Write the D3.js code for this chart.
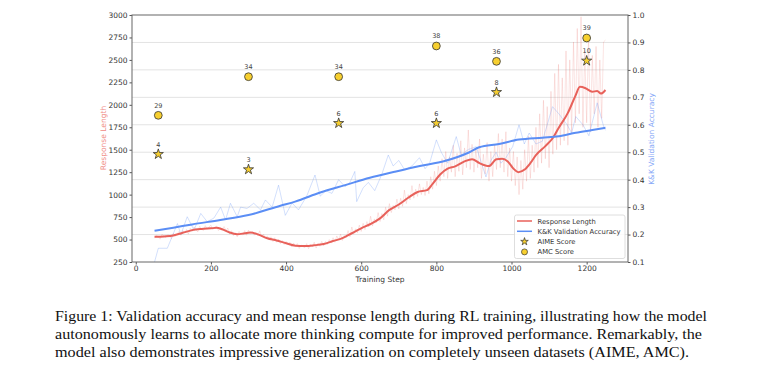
<!DOCTYPE html>
<html><head><meta charset="utf-8">
<script src="https://cdn.jsdelivr.net/npm/d3@7"></script>
<style>body{margin:0;background:#fff} .cap{font-family:"Liberation Serif","Times New Roman",serif;}</style>
</head><body>
<svg id="chart" width="760" height="377"></svg>
<script>
// ---------- data ----------
const xTicks = [0,200,400,600,800,1000,1200];
const leftTicks = [250,500,750,1000,1250,1500,1750,2000,2250,2500,2750,3000];
const rightTicks = [0.1,0.2,0.3,0.4,0.5,0.6,0.7,0.8,0.9,1.0];

// Response length (smoothed)
const lenSmoothSteps = [50,75,100,125,150,175,200,215,230,250,270,290,305,325,350,375,400,425,450,475,500,525,550,575,600,625,650,675,700,725,750,775,790,810,830,850,875,895,915,940,960,975,990,1005,1018,1035,1050,1065,1090,1110,1125,1150,1170,1182,1197,1215,1228,1238,1250];
const lenSmooth = [530,535,545,575,605,618,625,630,615,578,560,570,578,558,515,490,458,432,428,436,450,483,515,570,625,673,736,830,890,965,1030,1050,1120,1225,1290,1315,1370,1395,1350,1318,1395,1400,1370,1290,1250,1280,1350,1440,1540,1630,1740,1910,2100,2200,2185,2145,2155,2125,2165];

// Response length (raw, every 5 steps from 50 to 1250)
const lenRaw = [
 515,548,530,505,560,538,520,552,545,510,
 570,535,558,590,548,600,575,612,560,625,
 590,640,610,585,648,620,600,655,615,640,
 660,610,638,650,600,632,612,645,598,628,
 560,598,545,575,530,590,560,552,600,548,
 605,560,590,548,578,540,598,530,560,520,
 540,495,530,478,520,470,505,455,490,445,
 480,440,470,418,462,425,455,400,440,420,
 410,455,398,445,420,470,405,460,425,480,
 430,478,445,500,460,520,470,540,495,560,
 490,545,520,600,530,640,560,620,575,660,
 590,680,610,700,640,760,650,730,690,800,
 700,790,720,860,760,900,800,880,830,950,
 840,960,870,1050,900,1000,940,1100,960,1060,
 980,1120,1000,1080,990,1150,1010,1200,1060,1260,
 1100,1320,1150,1400,1200,1480,1180,1420,1250,1550,
 1200,1460,1260,1600,1220,1520,1300,1720,1280,1560,
 1250,1500,1300,1620,1180,1450,1230,1580,1150,1480,
 1200,1560,1280,1680,1300,1620,1250,1700,1200,1520,
 1150,1480,1100,1420,1000,1380,1060,1500,1150,1650,
 1180,1550,1250,1750,1300,1900,1350,2050,1400,1980,
 1300,2150,1450,2350,1500,2450,1550,2300,1600,2600,
 1550,2500,1700,2700,1800,2850,1900,2980,1750,2600,
 1800,2750,1700,2550,1900,2650,1750,2500,1850,2700,
 2720];

// K&K validation accuracy (smoothed)
const accSmoothSteps = [50,100,150,225,300,385,424,491,557,623,689,756,822,888,914,967,1020,1082,1126,1171,1215,1250];
const accSmooth = [0.214,0.225,0.237,0.253,0.271,0.305,0.320,0.353,0.380,0.407,0.429,0.450,0.468,0.500,0.518,0.530,0.546,0.553,0.558,0.571,0.581,0.589];

// K&K validation accuracy (raw)
const accRawSteps = [50,60,84,93,111,120,137,155,173,190,208,226,239,252,270,279,296,314,332,345,363,380,398,416,433,455,477,491,506,522,540,557,570,583,588,605,619,636,655,672,685,700,716,735,755,770,782,800,813,830,853,866,885,906,932,945,959,972,985,1003,1020,1034,1047,1065,1082,1095,1109,1126,1148,1160,1171,1190,1206,1228,1246,1250];
const accRaw = [0.10,0.15,0.15,0.18,0.24,0.20,0.265,0.216,0.277,0.247,0.26,0.30,0.253,0.314,0.265,0.30,0.295,0.314,0.29,0.326,0.30,0.38,0.27,0.315,0.29,0.34,0.417,0.34,0.36,0.35,0.40,0.374,0.39,0.43,0.32,0.37,0.39,0.36,0.42,0.49,0.45,0.47,0.435,0.45,0.48,0.44,0.46,0.545,0.50,0.46,0.557,0.49,0.51,0.52,0.41,0.47,0.50,0.46,0.48,0.52,0.60,0.53,0.57,0.53,0.54,0.60,0.666,0.64,0.60,0.57,0.63,0.60,0.56,0.68,0.59,0.58];

// Benchmark scores (plotted against the left axis)
const benchSteps = [60,300,540,800,960,1200];
const aimeScores = [4,3,6,6,8,10];
const aimeY = [1450,1280,1795,1795,2140,2490];
const amcScores = [29,34,34,38,36,39];
const amcY = [1883,2313,2313,2655,2484,2744];

const legendLabels = ["Response Length","K&K Validation Accuracy","AIME Score","AMC Score"];
const captionLines = [
 "Figure 1: Validation accuracy and mean response length during RL training, illustrating how the model",
 "autonomously learns to allocate more thinking compute for improved performance. Remarkably, the",
 "model also demonstrates impressive generalization on completely unseen datasets (AIME, AMC)."
];
const captionWidths = [652,647,634];

// ---------- drawing ----------
const svg = d3.select("#chart");
const L = 132, R = 628, T = 15, B = 262;
const x = d3.scaleLinear().domain([-10,1310]).range([L,R]);
const yL = d3.scaleLinear().domain([250,3000]).range([B,T]);
const yR = d3.scaleLinear().domain([0.1,1.0]).range([B,T]);

const RED = "#e8615a", BLUE = "#5b8ef5", GOLD = "#f7cf2f";
const font = "DejaVu Sans, sans-serif";

// grid (from right axis)
svg.append("g").selectAll("line").data(rightTicks.slice(1,-1)).join("line")
  .attr("x1",L).attr("x2",R).attr("y1",d=>yR(d)).attr("y2",d=>yR(d))
  .attr("stroke","#e3e3e3").attr("stroke-width",1);

svg.append("clipPath").attr("id","clip").append("rect")
  .attr("x",L).attr("y",T).attr("width",R-L).attr("height",B-T);
const plot = svg.append("g").attr("clip-path","url(#clip)");

const stepsRaw = d3.range(50,1251,5);
plot.append("path").datum(lenRaw)
  .attr("d", d3.line().x((d,i)=>x(stepsRaw[i])).y(d=>yL(d)))
  .attr("fill","none").attr("stroke",RED).attr("stroke-opacity",0.22).attr("stroke-width",0.8);
plot.append("path").datum(accRaw)
  .attr("d", d3.line().x((d,i)=>x(accRawSteps[i])).y(d=>yR(d)))
  .attr("fill","none").attr("stroke",BLUE).attr("stroke-opacity",0.3).attr("stroke-width",0.9);
plot.append("path").datum(lenSmooth)
  .attr("d", d3.line().curve(d3.curveMonotoneX).x((d,i)=>x(lenSmoothSteps[i])).y(d=>yL(d)))
  .attr("fill","none").attr("stroke",RED).attr("stroke-width",2);
plot.append("path").datum(accSmooth)
  .attr("d", d3.line().curve(d3.curveMonotoneX).x((d,i)=>x(accSmoothSteps[i])).y(d=>yR(d)))
  .attr("fill","none").attr("stroke",BLUE).attr("stroke-width",2);

// markers
const star = d3.symbol().type(d3.symbolStar).size(32);
const mk = svg.append("g");
mk.selectAll("path.aime").data(benchSteps).join("path")
  .attr("transform",(d,i)=>`translate(${x(d)},${yL(aimeY[i])})`)
  .attr("d",star()).attr("fill",GOLD).attr("stroke","#333").attr("stroke-width",0.8);
mk.selectAll("circle.amc").data(benchSteps).join("circle")
  .attr("cx",d=>x(d)).attr("cy",(d,i)=>yL(amcY[i])).attr("r",3.9)
  .attr("fill",GOLD).attr("stroke","#333").attr("stroke-width",0.8);
mk.selectAll("text.aime").data(benchSteps).join("text")
  .attr("x",d=>x(d)).attr("y",(d,i)=>yL(aimeY[i])-7.5).attr("text-anchor","middle")
  .attr("font-family",font).attr("font-size",6.5).attr("fill","#444").text((d,i)=>aimeScores[i]);
mk.selectAll("text.amc").data(benchSteps).join("text")
  .attr("x",d=>x(d)).attr("y",(d,i)=>yL(amcY[i])-7.5).attr("text-anchor","middle")
  .attr("font-family",font).attr("font-size",6.5).attr("fill","#444").text((d,i)=>amcScores[i]);

// axes
function styleAxis(g){
  g.selectAll(".domain").remove();
  g.selectAll(".tick line").attr("stroke","#555");
  g.selectAll(".tick text").attr("font-family",font).attr("font-size",7.5).attr("fill","#333");
}
svg.append("g").attr("transform",`translate(0,${B})`)
  .call(d3.axisBottom(x).tickValues(xTicks).tickFormat(d3.format("d")).tickSize(2.5).tickPadding(1)).call(styleAxis);
svg.append("g").attr("transform",`translate(${L},0)`)
  .call(d3.axisLeft(yL).tickValues(leftTicks).tickFormat(d3.format("d")).tickSize(2.5).tickPadding(2)).call(styleAxis);
svg.append("g").attr("transform",`translate(${R},0)`)
  .call(d3.axisRight(yR).tickValues(rightTicks).tickFormat(d3.format(".1f")).tickSize(2.5).tickPadding(2)).call(styleAxis);

svg.append("rect").attr("x",L).attr("y",T).attr("width",R-L).attr("height",B-T)
  .attr("fill","none").attr("stroke","#666").attr("stroke-width",1);

// axis labels
svg.append("text").attr("x",(L+R)/2).attr("y",281.5).attr("text-anchor","middle")
  .attr("font-family",font).attr("font-size",7.5).attr("fill","#333").text("Training Step");
svg.append("text").attr("transform","translate(106,138) rotate(-90)").attr("text-anchor","middle")
  .attr("font-family",font).attr("font-size",7.5).attr("fill","#f08a84").text("Response Length");
svg.append("text").attr("transform","translate(654,139) rotate(-90)").attr("text-anchor","middle")
  .attr("font-family",font).attr("font-size",7.5).attr("fill","#86a7f7").text("K&K Validation Accuracy");

// legend
const lg = svg.append("g");
lg.append("rect").attr("x",514.5).attr("y",215).attr("width",110.5).attr("height",43.5).attr("rx",2)
  .attr("fill","#fff").attr("fill-opacity",0.85).attr("stroke","#d5d5d5").attr("stroke-width",0.8);
const ly = [221,231.3,241.6,251.9];
lg.append("line").attr("x1",517).attr("x2",532).attr("y1",ly[0]).attr("y2",ly[0]).attr("stroke",RED).attr("stroke-width",1.5);
lg.append("line").attr("x1",517).attr("x2",532).attr("y1",ly[1]).attr("y2",ly[1]).attr("stroke",BLUE).attr("stroke-width",1.5);
lg.append("path").attr("transform",`translate(524.5,${ly[2]})`).attr("d",d3.symbol().type(d3.symbolStar).size(18)())
  .attr("fill",GOLD).attr("stroke","#333").attr("stroke-width",0.7);
lg.append("circle").attr("cx",524.5).attr("cy",ly[3]).attr("r",3).attr("fill",GOLD).attr("stroke","#333").attr("stroke-width",0.7);
lg.selectAll("text").data(legendLabels).join("text")
  .attr("x",537.5).attr("y",(d,i)=>ly[i]+2.5).attr("font-family",font).attr("font-size",6.8).attr("fill","#333").text(d=>d);

// caption
svg.append("g").selectAll("text").data(captionLines).join("text")
  .attr("class","cap")
  .attr("x",55).attr("y",(d,i)=>321+i*18)
  .style("font-family","'Liberation Serif', 'Times New Roman', serif")
  .attr("font-size",15.5).attr("fill","#111")
  .attr("textLength",(d,i)=>captionWidths[i]).attr("lengthAdjust","spacingAndGlyphs")
  .text(d=>d);
</script>
</body></html>
